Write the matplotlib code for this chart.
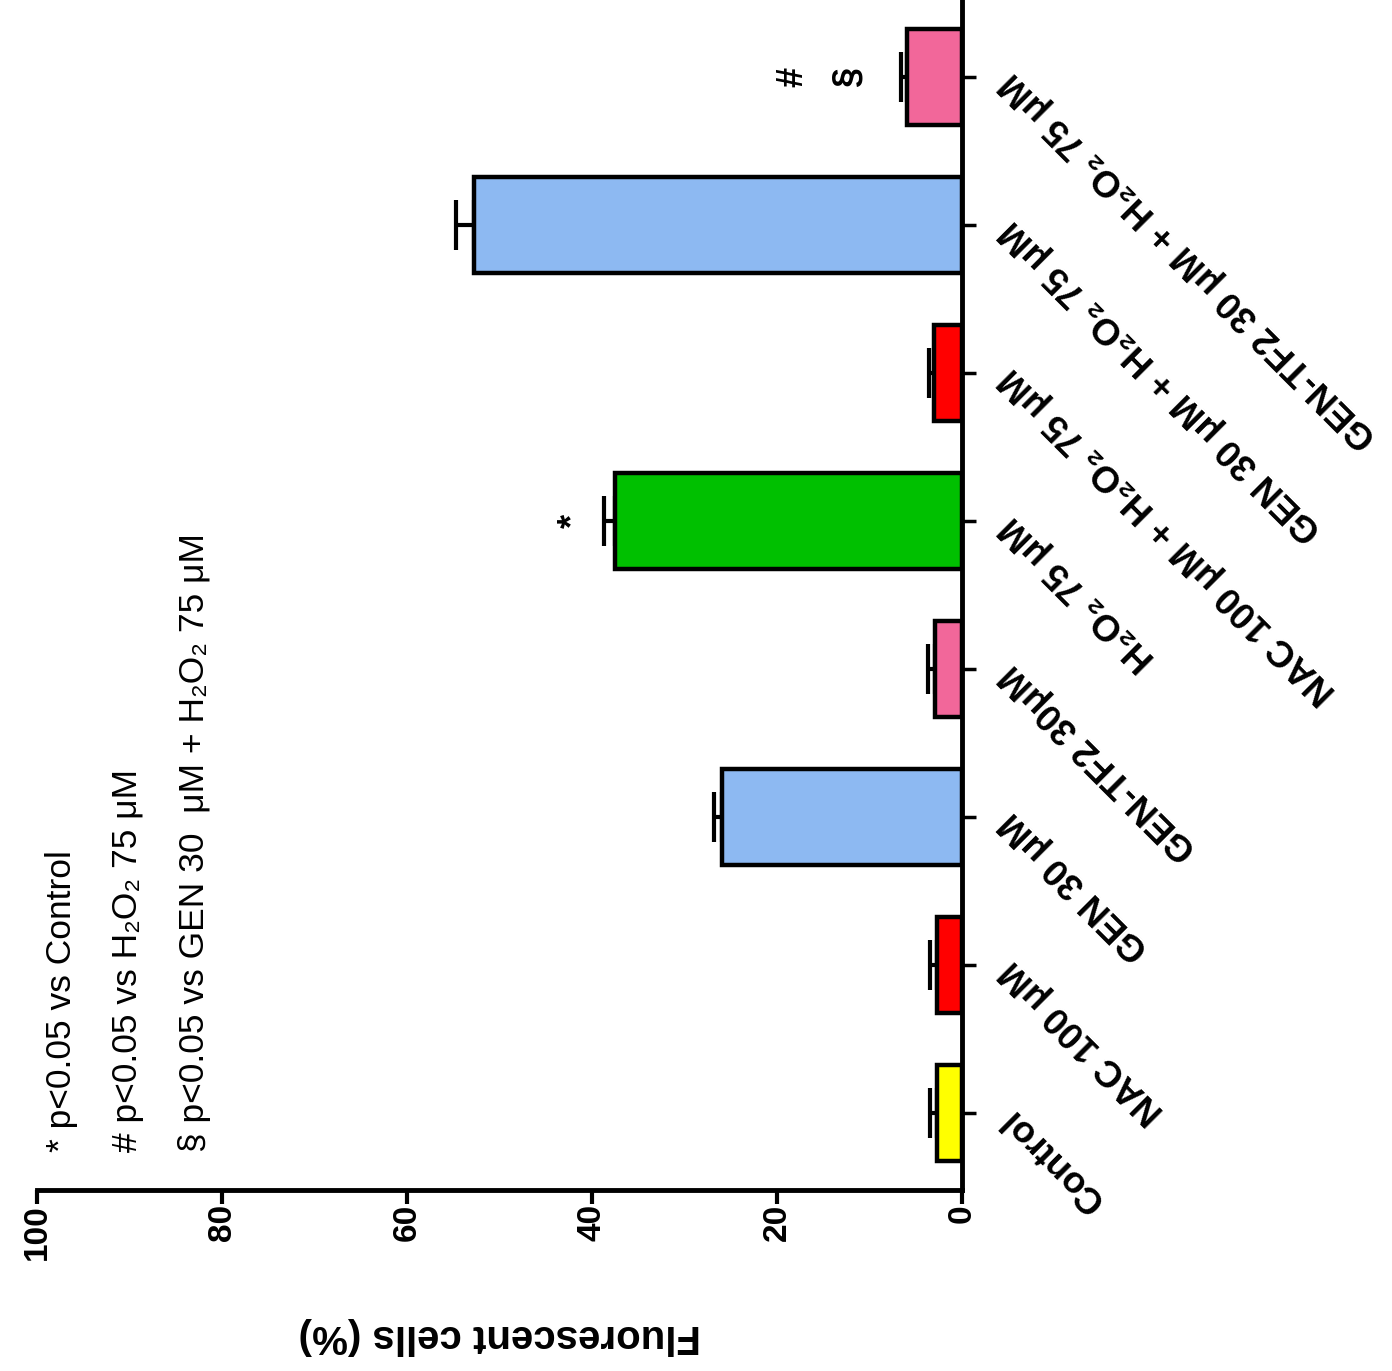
import matplotlib
matplotlib.use('Agg')
import matplotlib.pyplot as plt
import numpy as np

plt.rcParams['font.family'] = ['Liberation Sans', 'DejaVu Sans']

# data (chart is drawn rotated: bars grow to the left)
groups = ['Control', 'NAC 100 \u03bcM', 'GEN 30 \u03bcM', 'GEN-TF2 30\u03bcM',
          'H\u2082O\u2082 75 \u03bcM',
          'NAC 100 \u03bcM + H\u2082O\u2082 75 \u03bcM',
          'GEN 30 \u03bcM + H\u2082O\u2082 75 \u03bcM',
          'GEN-TF2 30 \u03bcM + H\u2082O\u2082 75 \u03bcM']
values = [2.7, 2.7, 26.0, 2.9, 37.5, 3.0, 52.8, 5.9]
errors = [0.8, 0.8, 0.8, 0.8, 1.2, 0.6, 1.9, 0.7]
bar_colors = ['#FFFF00', '#FF0000', '#8DB9F2', '#F2679A',
              '#00C000', '#FF0000', '#8DB9F2', '#F2679A']
xticks = [0, 20, 40, 60, 80, 100]
# significance marks: group index, symbol, position on value axis
mark_idx = [4, 7, 7]
mark_sym = ['*', '\u00a7', '#']
mark_val = [42.0, 12.3, 18.3]
notes = ['* p<0.05 vs Control',
         '# p<0.05 vs H\u2082O\u2082 75 \u03bcM',
         '\u00a7 p<0.05 vs GEN 30  \u03bcM + H\u2082O\u2082 75 \u03bcM']

fig = plt.figure(figsize=(13.92, 13.71), dpi=100)
ax = fig.add_axes([37 / 1392, 181 / 1371, 925 / 1392, 1190 / 1371])

pos = np.arange(len(groups))
ax.errorbar(values, pos, xerr=[np.zeros(len(errors)), errors], fmt='none',
            ecolor='black', elinewidth=3, capsize=18, capthick=3, zorder=1)
ax.barh(pos, values, height=0.65, color=bar_colors, edgecolor='black',
        linewidth=3.2, zorder=2)

ax.set_xlim(100, 0)
ax.set_ylim(-0.52, 7.52)

for s in ['left', 'top']:
  ax.spines[s].set_visible(False)
for s in ['right', 'bottom']:
  ax.spines[s].set_linewidth(3.5)

ax.set_xticks(xticks)
ax.set_xticklabels([str(t) for t in xticks], rotation=90, fontsize=24,
                   fontweight='bold')
ax.tick_params(axis='x', direction='out', length=10, width=3, pad=0)

ax.yaxis.tick_right()
ax.set_yticks(pos)
ax.set_yticklabels(groups, fontsize=26.5, fontweight='bold')
ax.tick_params(axis='y', direction='out', length=10, width=2.5, pad=22)
for lbl in ax.get_yticklabels():
  lbl.set_rotation(135)
  lbl.set_rotation_mode('anchor')
  lbl.set_ha('right')
  lbl.set_va('center')

ax.set_xlabel('Fluorescent cells (%)', fontsize=29, fontweight='bold',
              rotation=180)
ax.xaxis.set_label_coords(0.5, -0.107)
ax.xaxis.label.set_va('top')

for i, s, v in zip(mark_idx, mark_sym, mark_val):
  ax.text(v, pos[i], s, rotation=90, ha='center', va='center',
          fontsize=26, fontweight='bold')

xs = [62, 127, 195]
for x, t in zip(xs, notes):
  fig.text(x / 1392, (1371 - 1152) / 1371, t, rotation=90, ha='center',
           va='bottom', fontsize=25.5)

plt.savefig('out.png', dpi=100)
